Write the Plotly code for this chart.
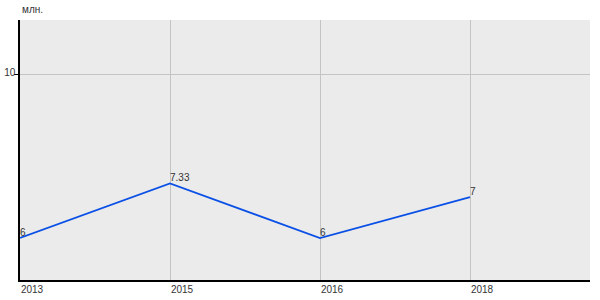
import plotly.graph_objects as go

years = ["2013", "2015", "2016", "2018"]
values = [6, 7.33, 6, 7]
labels = ["6", "7.33", "6", "7"]

fig = go.Figure()
fig.add_trace(go.Scatter(
    x=years, y=values, mode="lines+text",
    text=labels, textposition="top right",
    textfont=dict(family="Liberation Sans, Arial", size=10, color="#333333"),
    line=dict(color="#0a50e6", width=1.8),
    hoverinfo="skip", showlegend=False, cliponaxis=False,
))

fig.update_layout(
    width=600, height=300,
    margin=dict(l=20, r=10, t=20, b=20),
    paper_bgcolor="white", plot_bgcolor="#ebebeb",
    font=dict(family="Liberation Sans, Arial", size=10, color="#333333"),
    xaxis=dict(
        type="category", range=[0, 3.8], automargin=False,
        showgrid=True, gridcolor="#c4c4c4", gridwidth=1,
        showline=True, linecolor="black", linewidth=1.5,
        ticks="", ticklabelshift=12, ticklabelstandoff=-1,
        tickfont=dict(size=10, color="#333333"),
        zeroline=False, fixedrange=True,
    ),
    yaxis=dict(
        range=[4.976, 11.317], tickvals=[10], automargin=False,
        showgrid=True, gridcolor="#c4c4c4", gridwidth=1,
        showline=True, linecolor="black", linewidth=1.5,
        ticks="outside", ticklen=4, tickcolor="black",
        ticklabelstandoff=-3, ticklabelshift=-2,
        tickfont=dict(size=10, color="#333333"),
        zeroline=False, fixedrange=True,
    ),
    annotations=[dict(
        text="млн.", xref="paper", yref="paper", x=0, y=1,
        xanchor="left", yanchor="bottom", yshift=3, showarrow=False,
        font=dict(size=10, color="#333333"),
    )],
)

fig.write_html("out.html")
